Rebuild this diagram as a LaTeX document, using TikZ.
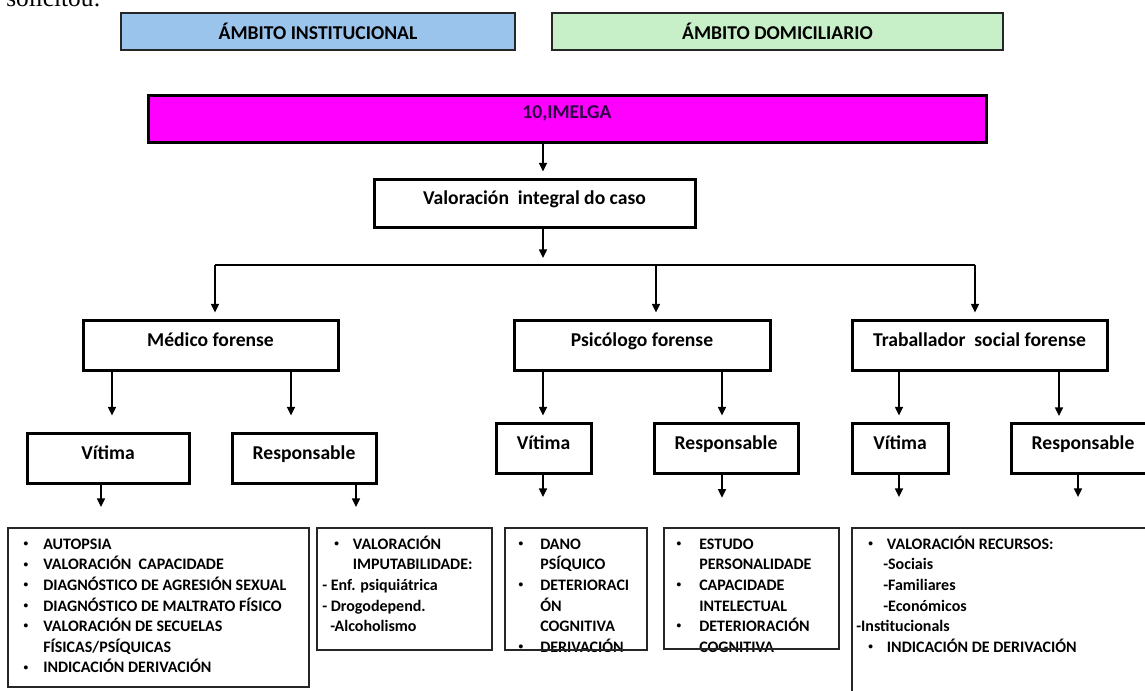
\documentclass[tikz,border=0pt]{standalone}
\usepackage{fontspec}
\newfontfamily\calib{Carlito}
\newfontfamily\tms{Liberation Serif}
\usetikzlibrary{arrows.meta}
\newcommand{\bul}[1]{\makebox[#1][l]{\hspace*{1pt}\raisebox{0.35ex}{\fontsize{7}{7}\selectfont•}}}

\begin{document}
\begin{tikzpicture}[x=0.75pt,y=0.75pt,yscale=-1,
  arr/.style={line width=1.1pt,-{Triangle[length=6.5pt,width=6pt]}},
  hdrbox/.style={draw=black!85,line width=1.5pt,inner sep=0pt,minimum height=27.75pt,font=\calib\bfseries\fontsize{14.7}{17}\selectfont},
  tbox/.style={draw,line width=2.25pt,fill=white,inner sep=0pt,text height=11pt,text depth=9.5pt,font=\calib\bfseries\fontsize{14.7}{17}\selectfont},
  listbox/.style={draw=black!85,line width=1.4pt,inner sep=0pt},
  listtxt/.style={inner sep=0pt,anchor=north west,align=left,font=\calib\bfseries\fontsize{12}{15.45}\selectfont}
]
\useasboundingbox (0,0) rectangle (1145,691);

% Text Node
\node [anchor=base west,inner sep=0pt,font=\tms\fontsize{19}{22}\selectfont] (intro) at (6,7) {solicitou:};

%Shape: Rectangle
\node [hdrbox,fill={rgb,255:red,155;green,196;blue,236},minimum width=295.5pt] (inst) at (318,31.5) {ÁMBITO INSTITUCIONAL};
%Shape: Rectangle
\node [hdrbox,fill={rgb,255:red,200;green,240;blue,200},minimum width=338.25pt] (domi) at (777.5,31.5) {ÁMBITO DOMICILIARIO};

%Shape: Rectangle
\node [tbox,fill={rgb,255:red,255;green,0;blue,255},minimum width=628.5pt,minimum height=35.25pt,text height=10pt,text depth=11.8pt,text={rgb,255:red,45;green,0;blue,70}] (imelga) at (567,119.5) {10,IMELGA};

%Shape: Rectangle
\node [tbox,minimum width=240.75pt,minimum height=36pt] (val) at (534.5,204) {Valoración\ \ integral do caso};

%Shape: Rectangle
\node [tbox,minimum width=191.25pt,minimum height=36.75pt] (medico) at (210.5,345.5) {Médico forense};
\node [tbox,minimum width=192pt,minimum height=36.75pt] (psico) at (642,345.5) {Psicólogo forense};
\node [tbox,minimum width=191.25pt,minimum height=36.75pt] (trab) at (979.5,345.5) {Traballador\ \ social forense};

%Shape: Rectangle
\node [tbox,minimum width=121.5pt,minimum height=37.5pt] (vm) at (108,458) {Vítima};
\node [tbox,minimum width=108pt,minimum height=37.5pt] (rm) at (304,458) {Responsable};
\node [tbox,minimum width=71.25pt,minimum height=37.5pt] (vp) at (543.5,448) {Vítima};
\node [tbox,minimum width=108pt,minimum height=37.5pt] (rp) at (726,448) {Responsable};
\node [tbox,minimum width=72pt,minimum height=37.5pt] (vt) at (900,448) {Vítima};
\node [tbox,minimum width=108pt,minimum height=37.5pt] (rt) at (1083,448.5) {Responsable};

% Text Node
\node [listtxt] (t1) at (22,534.6) {\strut\bul{15.75pt}AUTOPSIA\\
\bul{15.75pt}VALORACIÓN\ \ CAPACIDADE\\
\bul{15.75pt}DIAGNÓSTICO DE AGRESIÓN SEXUAL\\
\bul{15.75pt}DIAGNÓSTICO DE MALTRATO FÍSICO\\
\bul{15.75pt}VALORACIÓN DE SECUELAS\\
\hspace*{15.75pt}FÍSICAS/PSÍQUICAS\\
\bul{15.75pt}INDICACIÓN DERIVACIÓN};
% Text Node
\node [listtxt] (t2) at (322,534.6) {\strut\hspace*{8pt}\bul{15pt}VALORACIÓN\\
\hspace*{23pt}IMPUTABILIDADE:\\
- Enf. psiquiátrica\\
- Drogodepend.\\
\hspace*{6pt}-Alcoholismo};
% Text Node
\node [listtxt] (t3) at (517,534.6) {\strut\bul{17.25pt}DANO\\
\hspace*{17.25pt}PSÍQUICO\\
\bul{17.25pt}DETERIORACI\\
\hspace*{17.25pt}ÓN\\
\hspace*{17.25pt}COGNITIVA\\
\bul{17.25pt}DERIVACIÓN};
% Text Node
\node [listtxt] (t4) at (675,534.6) {\strut\bul{18pt}ESTUDO\\
\hspace*{18pt}PERSONALIDADE\\
\bul{18pt}CAPACIDADE\\
\hspace*{18pt}INTELECTUAL\\
\bul{18pt}DETERIORACIÓN\\
\hspace*{18pt}COGNITIVA};
% Text Node
\node [listtxt] (t5) at (856,534.6) {\strut\hspace*{8pt}\bul{15pt}VALORACIÓN RECURSOS:\\
\hspace*{20.25pt}-Sociais\\
\hspace*{20.25pt}-Familiares\\
\hspace*{20.25pt}-Económicos\\
-Institucionals\\
\hspace*{8pt}\bul{15pt}INDICACIÓN DE DERIVACIÓN};

%Shape: Rectangle
\node [listbox,minimum width=225.75pt,minimum height=119.25pt] (b1) at (158.5,607.5) {};
\node [listbox,minimum width=131.25pt,minimum height=91.5pt] (b2) at (404.5,589) {};
\node [listbox,minimum width=106.5pt,minimum height=91.5pt] (b3) at (576,589) {};
\node [listbox,minimum width=131.25pt,minimum height=90.75pt] (b4) at (751.5,588.5) {};
\node [listbox,minimum width=234.75pt,minimum height=132.75pt] (b5) at (1008.5,616.5) {};

% columns of the connectors
\coordinate (mid) at (543,0);
\coordinate (sl) at (215,265);
\coordinate (sm) at (656,265);
\coordinate (sr) at (975,265);
\coordinate (cm1) at (112,0);
\coordinate (cm2) at (291,0);
\coordinate (cp2) at (722,0);
\coordinate (ct1) at (899,0);
\coordinate (ct2) at (1059,0);
\coordinate (cb1) at (101,0);
\coordinate (cb2) at (356,0);
\coordinate (cb6) at (1078,0);

%Straight Lines
\draw [arr,shorten >=5.25pt] (imelga.south -| mid) -- (mid |- val.north);
\draw [arr,shorten >=5.25pt] (val.south -| mid) -- (mid |- sl);
\draw [line width=1.1pt] (sl) -- (sr);
\draw [arr,shorten >=5.25pt] (sl) -- (sl |- medico.north);
\draw [arr,shorten >=5.25pt] (sm) -- (sm |- psico.north);
\draw [arr,shorten >=5.25pt] (sr) -- (sr |- trab.north);

%Straight Lines
\draw [arr,shorten >=12pt] (medico.south -| cm1) -- (cm1 |- vm.north);
\draw [arr,shorten >=12pt] (medico.south -| cm2) -- (cm2 |- rm.north);
\draw [arr,shorten >=4.5pt] (psico.south -| mid) -- (mid |- vp.north);
\draw [arr,shorten >=4.5pt] (psico.south -| cp2) -- (cp2 |- rp.north);
\draw [arr,shorten >=4.5pt] (trab.south -| ct1) -- (ct1 |- vt.north);
\draw [arr,shorten >=4.5pt] (trab.south -| ct2) -- (ct2 |- rt.north);

%Straight Lines
\draw [arr,shorten >=15pt] (vm.south -| cb1) -- (cb1 |- b1.north);
\draw [arr,shorten >=15pt] (rm.south -| cb2) -- (cb2 |- b2.north);
\draw [arr,shorten >=22.5pt] (vp.south -| mid) -- (mid |- b3.north);
\draw [arr,shorten >=22pt] (rp.south -| cp2) -- (cp2 |- b4.north);
\draw [arr,shorten >=22.5pt] (vt.south -| ct1) -- (ct1 |- b5.north);
\draw [arr,shorten >=22.5pt] (rt.south -| cb6) -- (cb6 |- b5.north);

\end{tikzpicture}
\end{document}
